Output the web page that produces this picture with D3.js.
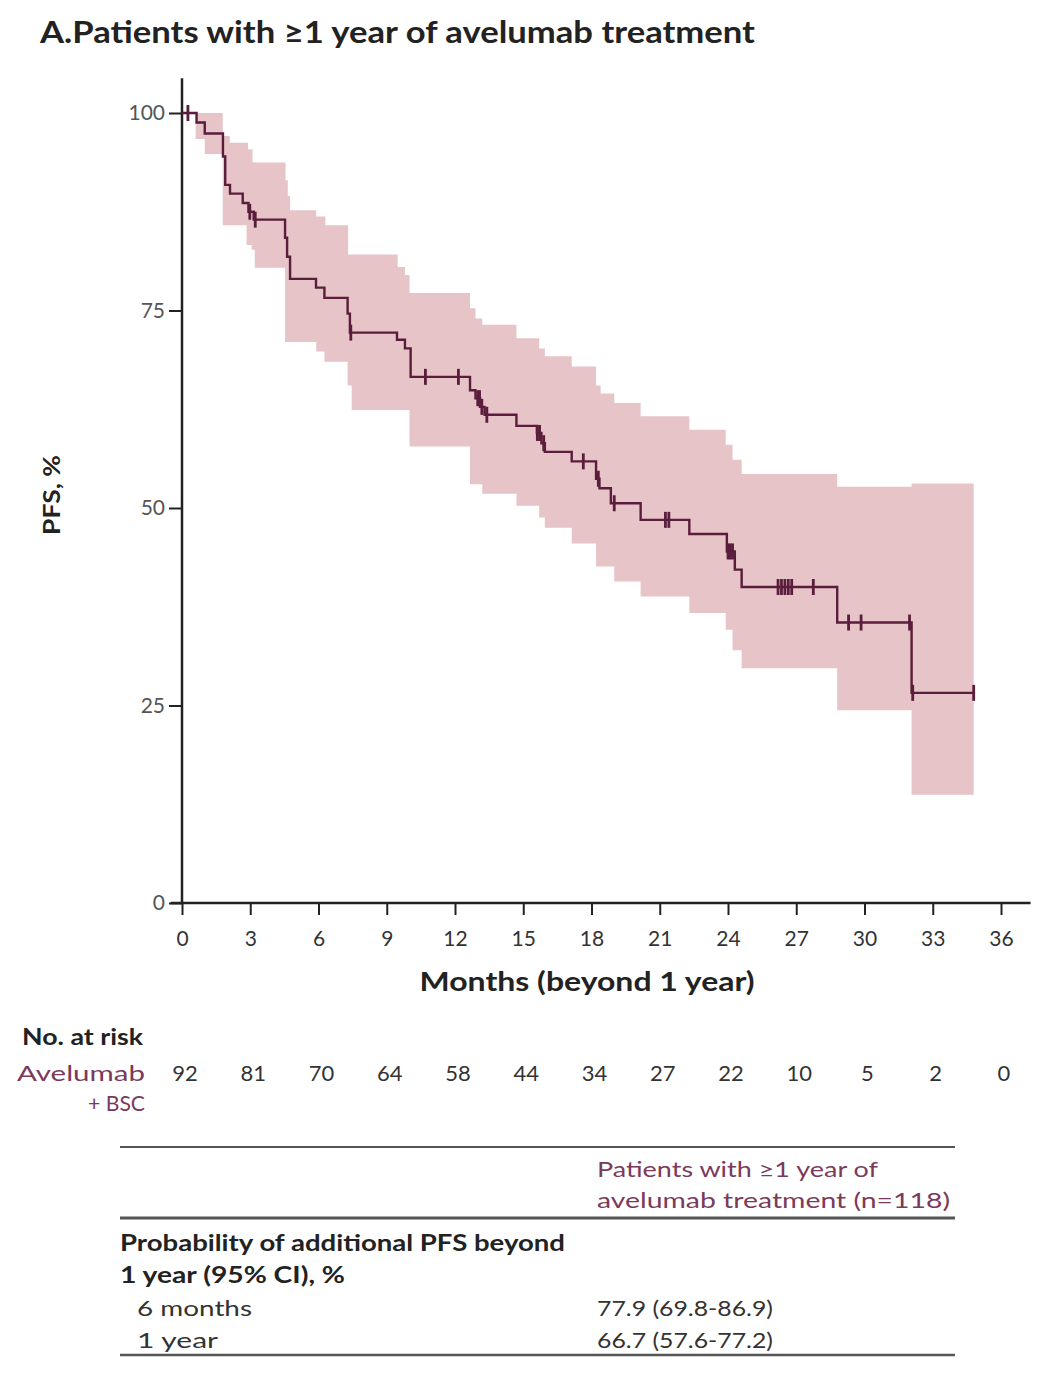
<!DOCTYPE html>
<html>
<head>
<meta charset="utf-8">
<script src="https://cdn.jsdelivr.net/npm/d3@7"></script>
<style>
  html,body{margin:0;padding:0;background:#fff;}
  svg{display:block;}
  text{font-family:"Lato","Open Sans","DejaVu Sans",sans-serif;}
</style>
</head>
<body>
<svg id="chart" width="1062" height="1384"></svg>
<script>
// ---------------- DATA ----------------
const kmTime = [0, 0.64, 1.0, 1.8, 1.9, 2.11, 2.67, 2.92, 3.15, 4.53, 4.62, 4.75, 5.89, 6.26, 7.28, 7.38, 9.45, 9.8, 10.05, 12.66, 12.9, 13.1, 13.3, 14.7, 15.6, 15.8, 15.95, 17.13, 18.2, 18.35, 18.85, 20.16, 22.3, 23.95, 24.3, 24.6, 28.8, 32.07];
const kmSurv = [100, 98.8, 97.4, 94.5, 90.9, 89.8, 88.6, 87.5, 86.5, 84.2, 81.8, 79.0, 77.9, 76.6, 74.6, 72.2, 71.3, 70.2, 66.6, 64.9, 63.9, 62.8, 61.8, 60.4, 59.5, 58.2, 57.1, 55.9, 53.7, 52.5, 50.6, 48.5, 46.7, 44.5, 42.2, 40.0, 35.5, 26.6];
const kmEnd = 34.8;

const censorTimes = [0.26, 2.98, 3.22, 7.42, 10.7, 12.15, 13.0, 13.08, 13.18, 13.4, 15.62, 15.72, 15.9, 17.64, 18.3, 19.0, 21.25, 21.4, 24.0, 24.1, 24.2, 26.2, 26.35, 26.5, 26.65, 26.8, 27.75, 29.3, 29.85, 31.98, 32.12, 34.8];

const upTime = [0.6, 1.79, 2.1, 2.9, 3.1, 4.55, 4.65, 4.75, 5.9, 6.3, 7.3, 9.48, 9.8, 10.0, 12.66, 12.9, 13.2, 14.7, 15.7, 15.95, 17.13, 18.2, 18.4, 19.0, 20.16, 22.3, 23.9, 24.2, 24.6, 28.8, 32.07];
const upVal  = [100, 97.1, 96.25, 95.4, 93.75, 91.5, 89.5, 87.7, 86.9, 85.8, 82.1, 80.5, 79.5, 77.2, 75.3, 74.0, 73.2, 71.5, 70.2, 69.2, 67.9, 65.5, 64.5, 63.3, 61.6, 59.9, 58.0, 56.1, 54.3, 52.7, 53.1];

const loTime = [0.6, 1.0, 1.79, 2.84, 3.06, 3.2, 4.53, 5.9, 6.26, 7.28, 7.46, 10.0, 12.66, 13.2, 14.7, 15.7, 15.95, 17.13, 18.2, 19.0, 20.16, 22.3, 23.9, 24.2, 24.6, 28.8, 32.07];
const loVal  = [96.7, 94.8, 85.8, 83.3, 82.7, 80.4, 71.0, 69.8, 68.5, 65.5, 62.4, 57.8, 53.0, 51.8, 50.3, 48.8, 47.5, 45.5, 42.6, 40.7, 38.8, 36.7, 34.6, 32.0, 29.7, 24.4, 13.7];

const xTicks = [0, 3, 6, 9, 12, 15, 18, 21, 24, 27, 30, 33, 36];
const yTicks = [0, 25, 50, 75, 100];
const riskTimes = [0, 3, 6, 9, 12, 15, 18, 21, 24, 27, 30, 33, 36];
const riskCounts = [92, 81, 70, 64, 58, 44, 34, 27, 22, 10, 5, 2, 0];

const tableRows = [
  {label: "6 months", value: "77.9 (69.8-86.9)"},
  {label: "1 year", value: "66.7 (57.6-77.2)"}
];

// ---------------- LAYOUT ----------------
const svg = d3.select("#chart");
const x = d3.scaleLinear().domain([0, 36]).range([182, 1001]);
const y = d3.scaleLinear().domain([0, 100]).range([903, 113]);
const lineColor = "#5a1d3b";
const bandColor = "#e7c4c8";
const maroonText = "#7b3a5c";

function stepVal(times, vals, t) {
  let v = vals[0];
  for (let i = 0; i < times.length; i++) { if (times[i] <= t) v = vals[i]; }
  return v;
}

// CI band
const bandTimes = Array.from(new Set([...upTime, ...loTime, kmEnd])).sort((a, b) => a - b);
const bandData = bandTimes.map(t => ({t, u: stepVal(upTime, upVal, t), l: stepVal(loTime, loVal, t)}));
svg.append("path")
  .datum(bandData)
  .attr("fill", bandColor)
  .attr("d", d3.area().curve(d3.curveStepAfter)
    .x(d => x(d.t)).y0(d => y(d.l)).y1(d => y(d.u)));

// Axes
const yAxis = d3.axisLeft(y).tickValues(yTicks).tickSize(13).tickPadding(4);
const gy = svg.append("g").attr("transform", `translate(${x(0)},0)`).call(yAxis);
gy.select(".domain").remove();
gy.selectAll(".tick line").attr("stroke", "#222").attr("stroke-width", 2);
gy.selectAll(".tick text").attr("font-size", 21).attr("fill", "#555")
  .style("font-family", "'Lato', sans-serif");

const xAxis = d3.axisBottom(x).tickValues(xTicks).tickSize(12).tickPadding(16);
const gx = svg.append("g").attr("transform", `translate(0,${y(0)})`).call(xAxis);
gx.select(".domain").remove();
gx.selectAll(".tick line").attr("stroke", "#222").attr("stroke-width", 2);
gx.selectAll(".tick text").attr("font-size", 21).attr("fill", "#333")
  .style("font-family", "'Lato', sans-serif");

svg.append("line").attr("x1", x(0)).attr("x2", x(0)).attr("y1", y(104.4)).attr("y2", y(0))
  .attr("stroke", "#222").attr("stroke-width", 2.5);
svg.append("line").attr("x1", x(-0.5)).attr("x2", x(37.3)).attr("y1", y(0)).attr("y2", y(0))
  .attr("stroke", "#222").attr("stroke-width", 2.5);

// KM line
const kmData = kmTime.map((t, i) => ({t, s: kmSurv[i]}));
kmData.push({t: kmEnd, s: kmSurv[kmSurv.length - 1]});
svg.append("path")
  .datum(kmData)
  .attr("fill", "none")
  .attr("stroke", lineColor)
  .attr("stroke-width", 2.4)
  .attr("d", d3.line().curve(d3.curveStepAfter).x(d => x(d.t)).y(d => y(d.s)));

// censor ticks
svg.append("g").selectAll("line").data(censorTimes).join("line")
  .attr("x1", d => x(d)).attr("x2", d => x(d))
  .attr("y1", d => y(stepVal(kmTime, kmSurv, d)) - 8)
  .attr("y2", d => y(stepVal(kmTime, kmSurv, d)) + 8)
  .attr("stroke", lineColor).attr("stroke-width", 2.8);

// Titles
svg.append("text").attr("x", 40).attr("y", 43)
  .attr("font-size", 31).attr("font-weight", 700).attr("fill", "#222")
  .attr("textLength", 715).attr("lengthAdjust", "spacingAndGlyphs")
  .text("A.Patients with \u22651 year of avelumab treatment");

svg.append("text").attr("transform", "translate(60,495) rotate(-90)")
  .attr("text-anchor", "middle").attr("font-size", 22).attr("font-weight", 700).attr("fill", "#222")
  .attr("textLength", 80).attr("lengthAdjust", "spacingAndGlyphs")
  .text("PFS, %");

svg.append("text").attr("x", 587).attr("y", 991)
  .attr("text-anchor", "middle").attr("font-size", 27).attr("font-weight", 700).attr("fill", "#222")
  .attr("textLength", 335).attr("lengthAdjust", "spacingAndGlyphs")
  .text("Months (beyond 1 year)");

// Number at risk
svg.append("text").attr("x", 22).attr("y", 1045)
  .attr("font-size", 22).attr("font-weight", 700).attr("fill", "#222")
  .attr("textLength", 121).attr("lengthAdjust", "spacingAndGlyphs")
  .text("No. at risk");
svg.append("text").attr("x", 145).attr("y", 1081).attr("text-anchor", "end")
  .attr("font-size", 22).attr("fill", maroonText)
  .attr("textLength", 128).attr("lengthAdjust", "spacingAndGlyphs")
  .text("Avelumab");
svg.append("text").attr("x", 145).attr("y", 1111).attr("text-anchor", "end")
  .attr("font-size", 22).attr("fill", maroonText)
  .attr("textLength", 57).attr("lengthAdjust", "spacingAndGlyphs")
  .text("+ BSC");
svg.append("g").selectAll("text").data(riskCounts).join("text")
  .attr("x", (d, i) => x(riskTimes[i]) + 3).attr("y", 1081)
  .attr("text-anchor", "middle").attr("font-size", 22).attr("fill", "#333")
  .text(d => d);

// Table
const tl = 120, tr = 955;
svg.append("line").attr("x1", tl).attr("x2", tr).attr("y1", 1147).attr("y2", 1147).attr("stroke", "#555").attr("stroke-width", 2);
svg.append("line").attr("x1", tl).attr("x2", tr).attr("y1", 1218).attr("y2", 1218).attr("stroke", "#555").attr("stroke-width", 3);
svg.append("line").attr("x1", tl).attr("x2", tr).attr("y1", 1355).attr("y2", 1355).attr("stroke", "#555").attr("stroke-width", 2.5);

svg.append("text").attr("x", 597).attr("y", 1177).attr("font-size", 22).attr("fill", maroonText)
  .attr("textLength", 281).attr("lengthAdjust", "spacingAndGlyphs")
  .text("Patients with \u22651 year of");
svg.append("text").attr("x", 597).attr("y", 1208).attr("font-size", 22).attr("fill", maroonText)
  .attr("textLength", 353).attr("lengthAdjust", "spacingAndGlyphs")
  .text("avelumab treatment (n=118)");

svg.append("text").attr("x", tl).attr("y", 1251).attr("font-size", 22).attr("font-weight", 700).attr("fill", "#222")
  .attr("textLength", 445).attr("lengthAdjust", "spacingAndGlyphs")
  .text("Probability of additional PFS beyond");
svg.append("text").attr("x", tl).attr("y", 1283).attr("font-size", 22).attr("font-weight", 700).attr("fill", "#222")
  .attr("textLength", 225).attr("lengthAdjust", "spacingAndGlyphs")
  .text("1 year (95% CI), %");

const rowY = [1316, 1348];
const labelW = [115, 81];
tableRows.forEach((r, i) => {
  svg.append("text").attr("x", 137).attr("y", rowY[i]).attr("font-size", 22).attr("fill", "#333")
    .attr("textLength", labelW[i]).attr("lengthAdjust", "spacingAndGlyphs").text(r.label);
  svg.append("text").attr("x", 597).attr("y", rowY[i]).attr("font-size", 22).attr("fill", "#333")
    .attr("textLength", 176).attr("lengthAdjust", "spacingAndGlyphs").text(r.value);
});
</script>
</body>
</html>
